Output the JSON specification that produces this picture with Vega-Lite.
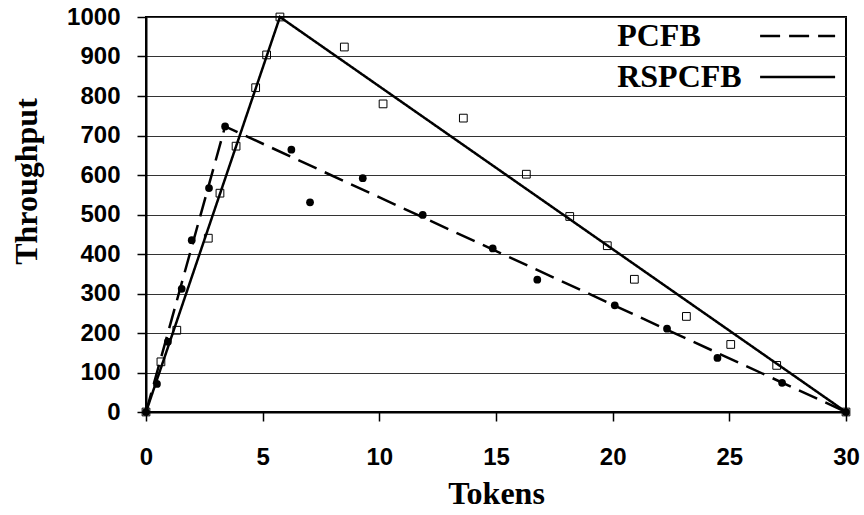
{
  "$schema": "https://vega.github.io/schema/vega-lite/v6.json",
  "width": 700,
  "height": 395,
  "autosize": {"type": "none"},
  "padding": {"left": 146, "top": 17, "right": 18, "bottom": 103},
  "background": "white",
  "config": {
    "view": {"stroke": "black", "strokeWidth": 2},
    "axis": {
      "domainColor": "black",
      "domainWidth": 2,
      "tickColor": "black",
      "tickWidth": 1.5,
      "tickSize": 9,
      "gridColor": "#333333",
      "gridWidth": 1,
      "labelFont": "Liberation Sans",
      "labelFontWeight": "bold",
      "labelFontSize": 24,
      "labelColor": "black",
      "titleFont": "Liberation Serif",
      "titleFontWeight": "bold",
      "titleFontSize": 32,
      "titleColor": "black"
    }
  },
  "datasets": {
    "lines": [
      {"series": "PCFB", "tokens": 0, "throughput": 0},
      {"series": "PCFB", "tokens": 3.39, "throughput": 723},
      {"series": "PCFB", "tokens": 30, "throughput": 0},
      {"series": "RSPCFB", "tokens": 0, "throughput": 0},
      {"series": "RSPCFB", "tokens": 5.74, "throughput": 1000},
      {"series": "RSPCFB", "tokens": 30, "throughput": 0}
    ],
    "points": [
      {"series": "PCFB", "tokens": 0, "throughput": 0},
      {"series": "PCFB", "tokens": 0.47, "throughput": 71},
      {"series": "PCFB", "tokens": 0.94, "throughput": 178},
      {"series": "PCFB", "tokens": 1.53, "throughput": 312},
      {"series": "PCFB", "tokens": 1.96, "throughput": 435},
      {"series": "PCFB", "tokens": 2.7, "throughput": 567},
      {"series": "PCFB", "tokens": 3.39, "throughput": 723},
      {"series": "PCFB", "tokens": 6.23, "throughput": 664},
      {"series": "PCFB", "tokens": 7.03, "throughput": 531},
      {"series": "PCFB", "tokens": 9.29, "throughput": 592},
      {"series": "PCFB", "tokens": 11.86, "throughput": 499},
      {"series": "PCFB", "tokens": 14.86, "throughput": 414},
      {"series": "PCFB", "tokens": 16.77, "throughput": 335},
      {"series": "PCFB", "tokens": 20.09, "throughput": 270},
      {"series": "PCFB", "tokens": 22.33, "throughput": 211},
      {"series": "PCFB", "tokens": 24.49, "throughput": 137},
      {"series": "PCFB", "tokens": 27.26, "throughput": 74},
      {"series": "PCFB", "tokens": 30, "throughput": 0},
      {"series": "RSPCFB", "tokens": 0, "throughput": 0},
      {"series": "RSPCFB", "tokens": 0.64, "throughput": 127},
      {"series": "RSPCFB", "tokens": 1.32, "throughput": 207},
      {"series": "RSPCFB", "tokens": 2.67, "throughput": 440},
      {"series": "RSPCFB", "tokens": 3.17, "throughput": 554},
      {"series": "RSPCFB", "tokens": 3.86, "throughput": 673},
      {"series": "RSPCFB", "tokens": 4.7, "throughput": 821},
      {"series": "RSPCFB", "tokens": 5.17, "throughput": 904},
      {"series": "RSPCFB", "tokens": 5.74, "throughput": 1000},
      {"series": "RSPCFB", "tokens": 8.5, "throughput": 924},
      {"series": "RSPCFB", "tokens": 10.16, "throughput": 780},
      {"series": "RSPCFB", "tokens": 13.6, "throughput": 744},
      {"series": "RSPCFB", "tokens": 16.3, "throughput": 602},
      {"series": "RSPCFB", "tokens": 18.16, "throughput": 495},
      {"series": "RSPCFB", "tokens": 19.77, "throughput": 421},
      {"series": "RSPCFB", "tokens": 20.93, "throughput": 336},
      {"series": "RSPCFB", "tokens": 23.16, "throughput": 242},
      {"series": "RSPCFB", "tokens": 25.06, "throughput": 171},
      {"series": "RSPCFB", "tokens": 27.03, "throughput": 118},
      {"series": "RSPCFB", "tokens": 30, "throughput": 0}
    ]
  },
  "encoding": {
    "x": {
      "field": "tokens",
      "type": "quantitative",
      "title": "Tokens",
      "scale": {"domain": [0, 30], "nice": false, "zero": true},
      "axis": {"values": [0, 5, 10, 15, 20, 25, 30], "format": "d", "grid": false, "labelPadding": 24, "titlePadding": 9, "labelFlush": false}
    },
    "y": {
      "field": "throughput",
      "type": "quantitative",
      "title": "Throughput",
      "scale": {"domain": [0, 1000], "nice": false},
      "axis": {"values": [0, 100, 200, 300, 400, 500, 600, 700, 800, 900, 1000], "format": "d", "grid": true, "labelPadding": 17, "titlePadding": 23, "titleY": 164, "labelFlush": false}
    }
  },
  "layer": [
    {
      "data": {"name": "lines"},
      "mark": {"type": "line", "color": "black", "strokeWidth": 2.5},
      "encoding": {
        "strokeDash": {
          "field": "series",
          "type": "nominal",
          "scale": {"domain": ["PCFB", "RSPCFB"], "range": [[20, 9], [1, 0]]},
          "legend": {
            "title": null,
            "orient": "none",
            "legendX": 471,
            "legendY": 3,
            "padding": 0,
            "symbolType": "M-4,0H4",
            "symbolSize": 351.6,
            "symbolStrokeWidth": 2.5,
            "symbolStrokeColor": "black",
            "symbolFillColor": "transparent",
            "symbolOffset": 164.6,
            "labelOffset": -196.4,
            "rowPadding": 9,
            "labelFont": "Liberation Serif",
            "labelFontWeight": "bold",
            "labelFontSize": 32,
            "labelColor": "black",
            "labelLimit": 300
          }
        }
      }
    },
    {
      "data": {"name": "points"},
      "transform": [{"filter": "datum.series === 'PCFB'"}],
      "mark": {"type": "point", "shape": "circle", "filled": true, "color": "black", "size": 60, "opacity": 1}
    },
    {
      "data": {"name": "points"},
      "transform": [{"filter": "datum.series === 'RSPCFB'"}],
      "mark": {"type": "point", "shape": "square", "filled": false, "color": "black", "size": 60, "strokeWidth": 1, "opacity": 1}
    }
  ]
}
